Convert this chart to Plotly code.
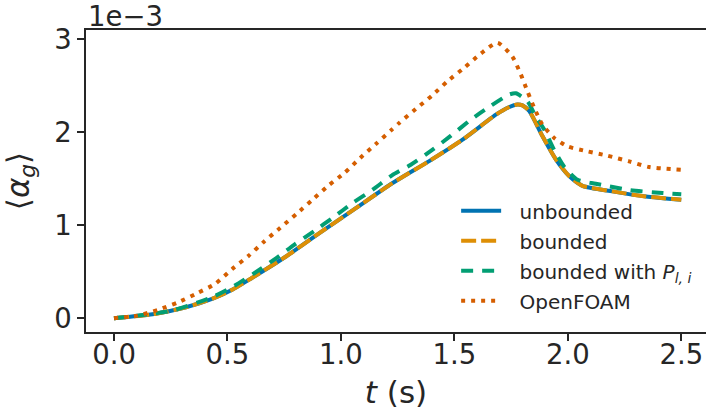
import plotly.graph_objects as go

# values of <alpha_g> in units of 1e-3
t_unb = [0.0, 0.17, 0.317, 0.435, 0.523, 0.606, 0.758, 0.905, 1.066, 1.228, 1.389,
         1.536, 1.683, 1.74, 1.778, 1.80, 1.83, 1.888, 1.947, 2.006, 2.065, 2.197, 2.344, 2.5]
a_unb = [0.0, 0.043, 0.118, 0.211, 0.31, 0.431, 0.664, 0.916, 1.185, 1.455, 1.69,
         1.921, 2.19, 2.27, 2.30, 2.29, 2.23, 1.96, 1.71, 1.53, 1.425, 1.365, 1.31, 1.275]

t_bnd = t_unb
a_bnd = [0.0, 0.043, 0.118, 0.211, 0.31, 0.431, 0.664, 0.916, 1.185, 1.455, 1.69,
         1.921, 2.19, 2.27, 2.30, 2.29, 2.23, 1.96, 1.71, 1.53, 1.425, 1.365, 1.31, 1.275]

t_pli = [0.0, 0.251, 0.439, 0.53, 0.623, 0.709, 0.794, 0.883, 0.966, 1.051, 1.14, 1.225,
         1.308, 1.404, 1.485, 1.573, 1.653, 1.741, 1.771, 1.822, 1.859, 1.896, 1.94,
         1.984, 2.043, 2.123, 2.27, 2.417, 2.5]
a_pli = [0.0, 0.079, 0.233, 0.348, 0.492, 0.636, 0.79, 0.94, 1.084, 1.239, 1.383, 1.537,
         1.652, 1.814, 1.964, 2.137, 2.273, 2.406, 2.42, 2.334, 2.17, 2.03, 1.81,
         1.63, 1.49, 1.447, 1.38, 1.347, 1.335]

t_of = [0.0, 0.104, 0.192, 0.28, 0.366, 0.446, 0.52, 0.593, 0.662, 0.733, 0.805, 0.875,
        0.944, 1.015, 1.085, 1.154, 1.225, 1.257, 1.33, 1.401, 1.47, 1.543, 1.617, 1.69,
        1.756, 1.793, 1.822, 1.852, 1.888, 1.94, 1.999, 2.087, 2.175, 2.27, 2.358, 2.5]
a_of = [0.0, 0.028, 0.089, 0.168, 0.269, 0.37, 0.528, 0.671, 0.826, 0.973, 1.124, 1.275,
        1.426, 1.562, 1.724, 1.875, 2.03, 2.101, 2.252, 2.395, 2.55, 2.694, 2.848, 2.963,
        2.813, 2.622, 2.442, 2.263, 2.083, 1.94, 1.849, 1.795, 1.749, 1.688, 1.627, 1.598]

names = ["unbounded", "bounded", "bounded with <i>P</i><sub><i>l, i</i></sub>", "OpenFOAM"]
y_ticks = [0, 1, 2, 3]
x_ticks = [0.0, 0.5, 1.0, 1.5, 2.0, 2.5]

INK = "#262626"
FONT = "DejaVu Sans"
GAP = "\u2006\u2006\u2006\u2006"

fig = go.Figure()
series = [
    (t_unb, a_unb, "#0173b2", "solid"),
    (t_bnd, a_bnd, "#de8f05", "15px,5px"),
    (t_pli, a_pli, "#029e73", "12px,9px"),
    (t_of, a_of, "#d55e00", "4px,6px"),
]
for i, (t, a, c, d) in enumerate(series):
    fig.add_trace(go.Scatter(
        x=t, y=a, mode="lines", name=GAP + names[i], legendgroup=f"g{i}",
        line=dict(color=c, width=4, dash=d, shape="spline", smoothing=0.6),
    ))

fig.update_layout(
    width=706, height=410,
    margin=dict(l=86, r=0, t=30, b=78),
    paper_bgcolor="white", plot_bgcolor="white",
    font=dict(family=FONT, color=INK, size=27),
    showlegend=True,
    legend=dict(
        x=0.597, y=0.466, xanchor="left", yanchor="top",
        bgcolor="rgba(0,0,0,0)", borderwidth=0,
        font=dict(size=20, family=FONT, color=INK),
        traceorder="grouped", tracegroupgap=1, itemwidth=40,
    ),
    xaxis=dict(
        range=[-0.1234, 2.609], tickvals=x_ticks, ticktext=[f"{v:.1f}" for v in x_ticks],
        showgrid=False, zeroline=False, showline=True, linecolor=INK, linewidth=1.5,
        mirror=True, ticks="outside", ticklen=7, tickwidth=1.5, tickcolor=INK,
        tickfont=dict(size=27.5), ticklabelstandoff=-10, ticklabeloverflow="allow",
        title=dict(text="<i>t</i> (s)", font=dict(size=31), standoff=14),
    ),
    yaxis=dict(
        range=[-0.148, 3.101], tickvals=y_ticks, ticktext=[str(v) for v in y_ticks],
        showgrid=False, zeroline=False, showline=True, linecolor=INK, linewidth=1.5,
        ticks="outside", ticklen=7, tickwidth=1.5, tickcolor=INK,
        tickfont=dict(size=27.5),
        title=dict(text="⟨<i>α</i><sub><i>g</i></sub>⟩", font=dict(size=31), standoff=20),
    ),
    annotations=[dict(
        text="1e−3", xref="paper", yref="paper", x=0.0, y=1.0, xanchor="left",
        yanchor="bottom", showarrow=False, font=dict(size=27.5, family=FONT, color=INK),
        yshift=-4,
    )],
)

fig.write_html("out.html", config={"displayModeBar": False},
               post_script="document.body.style.margin='0px';")
